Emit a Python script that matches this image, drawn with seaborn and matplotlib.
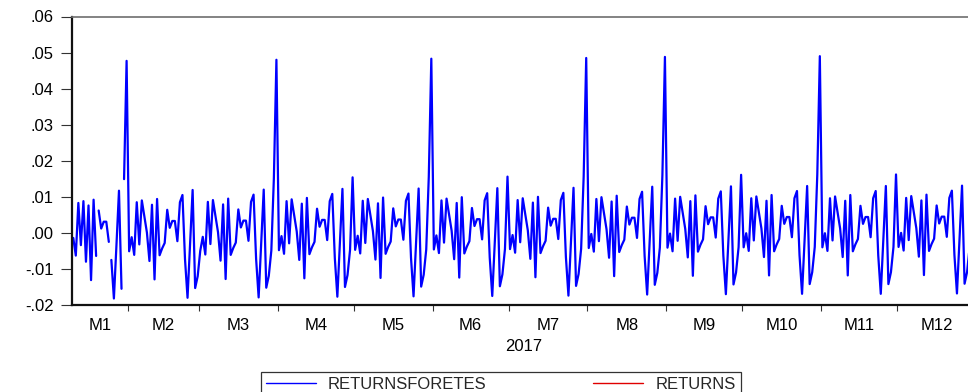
import numpy as np
import pandas as pd
import matplotlib
matplotlib.use("Agg")
import matplotlib.pyplot as plt
from matplotlib.lines import Line2D
import seaborn as sns

# Forecast return for each day of the month (day 1 .. day 31)
day_profile = [-0.0048, -0.0009, -0.0058, 0.0088, -0.0029, 0.0093, 0.0048, 0.0004,
               -0.0075, 0.0081, -0.0126, 0.0097, -0.0059, -0.0040, -0.0025, 0.0067,
               0.0017, 0.0036, 0.0036, -0.0020, 0.0088, 0.0108, -0.0070, -0.0177,
               -0.0030, 0.0122, -0.0150, -0.0117, -0.0047, 0.0154, 0.0482]
# Level of each month relative to the profile (M1 .. M12)
month_shift = [-0.0005, -0.0003, -0.0002, 0.0, 0.0001, 0.0002,
               0.0003, 0.0006, 0.0007, 0.0008, 0.0008, 0.0009]
# January holds trading days only; the line restarts on these days
jan_days = [2, 3, 4, 5, 6, 9, 10, 11, 12, 13, 16, 17, 18, 19, 20,
            23, 24, 25, 26, 27, 30, 31]
jan_breaks = [16, 23, 30]

month_labels = ["M1", "M2", "M3", "M4", "M5", "M6",
                "M7", "M8", "M9", "M10", "M11", "M12"]
year_label = "2017"
y_ticks = [-0.02, -0.01, 0.00, 0.01, 0.02, 0.03, 0.04, 0.05, 0.06]
y_tick_labels = ["-.02", "-.01", ".00", ".01", ".02", ".03", ".04", ".05", ".06"]
series_names = ["RETURNSFORETES", "RETURNS"]
series_colors = {"RETURNSFORETES": "#0000FF", "RETURNS": "#E00000"}

# ---- build the observation table ----
jan = pd.to_datetime([f"2017-01-{d:02d}" for d in jan_days])
rest = pd.date_range("2017-02-01", "2017-12-31", freq="D")
dates = jan.append(rest)
df = pd.DataFrame({"date": dates})
df["obs"] = np.arange(len(df))
df["value"] = [day_profile[d.day - 1] + month_shift[d.month - 1] for d in dates]
restart = [(d.month == 1 and d.day in jan_breaks) for d in dates]
df["segment"] = np.cumsum(restart)
df["series"] = series_names[0]

# month boundaries and centres on the observation axis
grp = df.groupby(df["date"].dt.month)["obs"]
month_start = grp.min().values
month_end = grp.max().values
bounds = (month_start[1:] - 0.5).tolist()
centers = ((month_start + month_end) / 2.0).tolist()

# ---- draw ----
sns.set_theme(style="white")
plt.rcParams["font.family"] = ["Liberation Sans", "DejaVu Sans"]
FS = 12

W, H = 968, 392
fig = plt.figure(figsize=(W / 100, H / 100), dpi=100)
ax = fig.add_axes([72 / W, 1 - 305 / H, 904 / W, (305 - 16.5) / H])

sns.lineplot(data=df, x="obs", y="value", hue="series", units="segment",
             estimator=None, palette=series_colors, legend=False,
             linewidth=1.6, ax=ax)

ax.set_xlim(-0.5, len(df) - 0.5)
ax.set_ylim(-0.02, 0.06)

ax.set_yticks(y_ticks)
ax.set_yticklabels(y_tick_labels)
ax.tick_params(axis="y", direction="out", length=8, width=0.8, color="#333333",
               pad=5, labelsize=FS, labelcolor="black", left=True)

ax.set_xticks(bounds)
ax.set_xticklabels([])
ax.set_xticks(centers, minor=True)
ax.set_xticklabels(month_labels, minor=True)
ax.tick_params(axis="x", which="major", direction="out", length=4, width=0.8,
               color="#333333", bottom=True)
ax.tick_params(axis="x", which="minor", length=0, pad=9, labelsize=FS,
               labelcolor="black", bottom=True)

ax.set_xlabel(year_label, fontsize=FS, labelpad=5, color="black")
ax.set_ylabel("")

for side in ("left", "bottom"):
    ax.spines[side].set_color("#111111")
    ax.spines[side].set_linewidth(1.6)
for side in ("top", "right"):
    ax.spines[side].set_color("#6e6e6e")
    ax.spines[side].set_linewidth(1.2)

handles = [Line2D([], [], color=series_colors[n], linewidth=1.0) for n in series_names]
leg = fig.legend(handles, series_names, loc="upper left",
                 bbox_to_anchor=(261 / W, 1 - 372 / H), ncol=2,
                 frameon=True, fancybox=False, edgecolor="black",
                 borderpad=0.3, borderaxespad=0, handlelength=3.0,
                 handletextpad=0.72, columnspacing=6.4, fontsize=FS)
leg.get_frame().set_linewidth(0.9)
leg.get_frame().set_facecolor("white")

fig.savefig("out.png", dpi=100, facecolor="white")
